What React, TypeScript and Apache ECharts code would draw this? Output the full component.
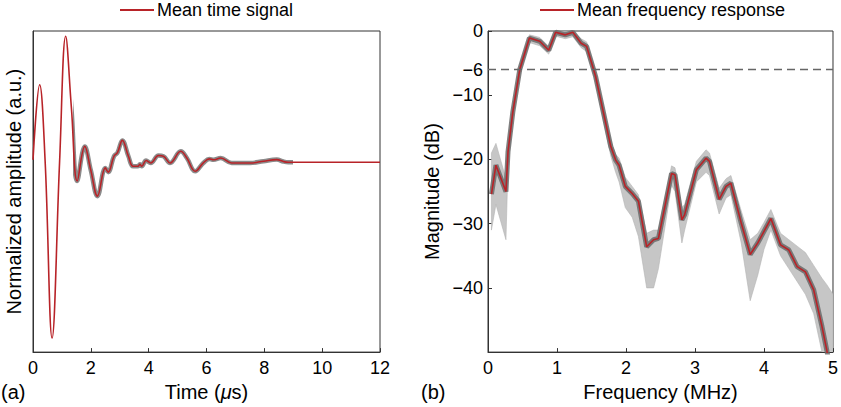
import React, { useEffect, useRef } from "react";
import * as echarts from "echarts";

// ---- Panel (a): mean time signal ----
const timeUs = [
  0, 0.23, 0.42, 0.66, 0.92, 1.13, 1.33, 1.53, 1.79, 2.0, 2.23, 2.5, 2.6, 2.8, 2.92,
  3.09, 3.3, 3.46, 3.63, 3.7, 3.76, 3.91, 4.07, 4.34, 4.51, 4.74, 5.11, 5.32, 5.61,
  5.89, 6.1, 6.24, 6.49, 6.87, 7.51, 7.97, 8.43, 8.66, 8.83, 9.2, 12,
];
const timeMean = [
  0.01, 0.435, 0, -1.0, 0, 0.71, 0.3, -0.11, 0.086, -0.05, -0.196, -0.036, -0.06, 0.03,
  0.05, 0.12, 0.03, -0.027, -0.027, -0.015, -0.027, 0.006, -0.008, 0.034, 0.03, -0.008,
  0.058, 0.02, -0.055, -0.008, 0.015, 0.01, 0.02, -0.008, -0.008, 0.002, 0.011, 0,
  -0.004, -0.004, -0.004,
];
const timeTicks = { min: 0, max: 12, interval: 2 };
// spread of individual signals is visible only in the ringing part (µs)
const timeSpreadFrom = 1.4;
const timeSpreadTo = 9.0;

// ---- Panel (b): frequency response (dB) ----
const freqMHz = [
  0.05, 0.115, 0.26, 0.29, 0.36, 0.46, 0.6, 0.75, 0.88, 0.98, 1.12, 1.23, 1.35, 1.43,
  1.53, 1.56, 1.78, 1.85, 1.9, 1.99, 2.09, 2.18, 2.3, 2.4, 2.47, 2.66, 2.71, 2.81, 2.85,
  3.02, 3.16, 3.21, 3.35, 3.45, 3.52, 3.67, 3.8, 3.91, 4.0, 4.1, 4.24, 4.36, 4.48, 4.6,
  4.72, 4.84, 4.91, 5.0,
];
const freqMean = [
  -25.4, -20.9, -25.0, -18.8, -12.6, -6.0, -1.1, -1.6, -3.0, -0.2, -0.6, -0.2, -1.9, -2.4,
  -6.0, -7.1, -18.0, -20.1, -20.9, -24.2, -25.3, -26.5, -33.6, -32.5, -32.3, -22.2, -22.4,
  -29.4, -28.6, -21.6, -19.8, -20.3, -26.2, -24.2, -23.7, -29.9, -34.8, -33.0, -31.2,
  -29.2, -33.3, -34.1, -36.7, -37.5, -40.3, -46.0, -49.7, -55,
];
const freqUpper = [
  -19, -17.5, -23, -17.5, -11.8, -5.3, -0.6, -1.0, -2.4, 0, -0.1, 0, -1.2, -1.7, -5.2,
  -6.3, -17.0, -19.2, -19.8, -22.8, -24.2, -25.5, -31.5, -31.0, -31.0, -21.0, -21.3,
  -27.5, -27.0, -20.3, -18.5, -19.0, -24.5, -23.0, -22.5, -28.0, -32.5, -31.5, -29.8,
  -27.8, -31.5, -32.5, -33.5, -34.5, -36.5, -38.5, -39.5, -41,
];
const freqLower = [
  -31, -27, -32.5, -21, -13.5, -6.8, -1.8, -2.3, -3.6, -0.8, -1.2, -0.9, -2.6, -3.2, -6.8,
  -8, -19.5, -22, -23.5, -27.5, -29, -32, -40, -40, -37, -24.0, -25, -33, -31, -23.5, -22,
  -22.5, -28.5, -26, -25.5, -33, -42, -38, -34, -31, -35, -37, -39, -41, -44, -50, -52,
  -58,
];
const magnitudeTicks = [0, -6, -10, -20, -30, -40];
const freqTicks = { min: 0, max: 5, interval: 1 };
const halfPowerDb = -6;

const RED = "#b82328";
const FONT = "'Liberation Sans', Arial, Helvetica, sans-serif";

const zip = (xs: number[], ys: number[]) => xs.map((x, i) => [x, ys[i]]);
const minus = (v: number) => (v < 0 ? "\u2212" + Math.abs(v) : String(v));

export default function App() {
  const ref = useRef<HTMLDivElement>(null);

  useEffect(() => {
    if (!ref.current) return;
    const chart = echarts.init(ref.current, undefined, { renderer: "svg" });

    const axisCommon = {
      axisLine: { show: true, onZero: false, lineStyle: { color: "#333", width: 1 } },
      splitLine: { show: false },
      axisTick: { inside: true, length: 4, lineStyle: { color: "#333" } },
      axisLabel: { color: "#000", fontSize: 18, fontFamily: FONT },
      nameTextStyle: { color: "#000", fontSize: 20, fontFamily: FONT },
      nameLocation: "middle" as const,
    };

    const legendCommon = {
      top: 1,
      padding: 0,
      icon: "rect",
      itemWidth: 34,
      itemHeight: 2,
      itemGap: 3,
      textStyle: { fontSize: 18, color: "#000", fontFamily: FONT, padding: [0, 0, 0, -2] },
    };

    const option: any = {
      animation: false,
      textStyle: { fontFamily: FONT },
      legend: [
        { ...legendCommon, data: ["Mean time signal"], left: 120 },
        { ...legendCommon, data: ["Mean frequency response"], left: 540 },
      ],
      visualMap: [
        {
          show: false,
          type: "piecewise",
          seriesIndex: 0,
          dimension: 0,
          pieces: [
            { lt: timeSpreadFrom, color: "rgba(110,110,110,0)" },
            { gte: timeSpreadFrom, lt: timeSpreadTo, color: "rgba(100,100,100,0.75)" },
            { gte: timeSpreadTo, color: "rgba(110,110,110,0)" },
          ],
        },
      ],
      grid: [
        { left: 33, top: 31, width: 347, height: 322, show: true, borderColor: "#333", borderWidth: 1 },
        { left: 488, top: 31, width: 348, height: 322, show: true, borderColor: "#333", borderWidth: 1 },
      ],
      xAxis: [
        {
          ...axisCommon,
          type: "value",
          gridIndex: 0,
          min: timeTicks.min,
          max: timeTicks.max,
          interval: timeTicks.interval,
          axisLabel: { ...axisCommon.axisLabel, margin: 7 },
          name: "{n|Time (}{i|\u03bc}{n|s)}",
          nameGap: 29,
          nameTextStyle: {
            ...axisCommon.nameTextStyle,
            rich: {
              n: { fontSize: 20, fontFamily: FONT, color: "#000" },
              i: { fontSize: 20, fontFamily: FONT, color: "#000", fontStyle: "italic" },
            },
          },
        },
        {
          ...axisCommon,
          type: "value",
          gridIndex: 1,
          min: freqTicks.min,
          max: freqTicks.max,
          interval: freqTicks.interval,
          axisLabel: { ...axisCommon.axisLabel, margin: 7 },
          name: "Frequency (MHz)",
          nameGap: 29,
        },
      ],
      yAxis: [
        {
          ...axisCommon,
          type: "value",
          gridIndex: 0,
          min: -1.08,
          max: 0.74,
          axisTick: { show: false },
          axisLabel: { show: false },
          name: "Normalized amplitude (a.u.)",
          nameGap: 9,
          nameRotate: 90,
        },
        {
          ...axisCommon,
          type: "value",
          gridIndex: 1,
          min: -50,
          max: 0,
          axisTick: { ...axisCommon.axisTick, customValues: magnitudeTicks },
          axisLabel: {
            ...axisCommon.axisLabel,
            margin: 5,
            customValues: magnitudeTicks,
            formatter: (v: number) => minus(v),
          },
          name: "Magnitude (dB)",
          nameGap: 46,
          nameRotate: 90,
        },
      ],
      graphic: [
        { type: "text", left: 1, top: 382, style: { text: "(a)", fontSize: 20, fontFamily: FONT, fill: "#000" } },
        { type: "text", left: 421, top: 382, style: { text: "(b)", fontSize: 20, fontFamily: FONT, fill: "#000" } },
      ],
      series: [
        {
          name: "time spread",
          type: "line",
          xAxisIndex: 0,
          yAxisIndex: 0,
          data: zip(timeUs, timeMean),
          smooth: 0.4,
          symbol: "none",
          silent: true,
          lineStyle: { width: 4.5 },
        },
        {
          name: "Mean time signal",
          type: "line",
          xAxisIndex: 0,
          yAxisIndex: 0,
          data: zip(timeUs, timeMean),
          smooth: 0.4,
          symbol: "none",
          color: RED,
          itemStyle: { color: RED },
          lineStyle: { color: RED, width: 1.6 },
        },
        {
          name: "freq envelope",
          type: "custom",
          xAxisIndex: 1,
          yAxisIndex: 1,
          clip: true,
          silent: true,
          data: [[freqMHz[0], freqUpper[0]]],
          renderItem: (_params: any, api: any) => {
            const up = freqMHz.map((f, i) => api.coord([f, freqUpper[i]]));
            const lo = freqMHz.map((f, i) => api.coord([f, freqLower[i]])).reverse();
            return {
              type: "polygon",
              shape: { points: up.concat(lo) },
              style: { fill: "#c6c6c6", stroke: "#b4b4b4", lineWidth: 0.6 },
            };
          },
        },
        {
          name: "freq core",
          type: "line",
          xAxisIndex: 1,
          yAxisIndex: 1,
          data: zip(freqMHz, freqMean),
          symbol: "none",
          silent: true,
          lineStyle: { color: "#6a6a6a", width: 5, opacity: 0.85 },
        },
        {
          name: "Mean frequency response",
          type: "line",
          xAxisIndex: 1,
          yAxisIndex: 1,
          data: zip(freqMHz, freqMean),
          symbol: "none",
          color: RED,
          itemStyle: { color: RED },
          lineStyle: { color: RED, width: 1.6 },
          markLine: {
            silent: true,
            symbol: ["none", "none"],
            label: { show: false },
            lineStyle: { color: "#666", type: [8, 5], width: 1.3 },
            data: [{ yAxis: halfPowerDb }],
          },
        },
      ],
    };

    chart.setOption(option);
    return () => chart.dispose();
  }, []);

  return (
    <div
      ref={ref}
      style={{ position: "fixed", left: 0, top: 0, width: 841, height: 407, background: "#fff" }}
    />
  );
}
